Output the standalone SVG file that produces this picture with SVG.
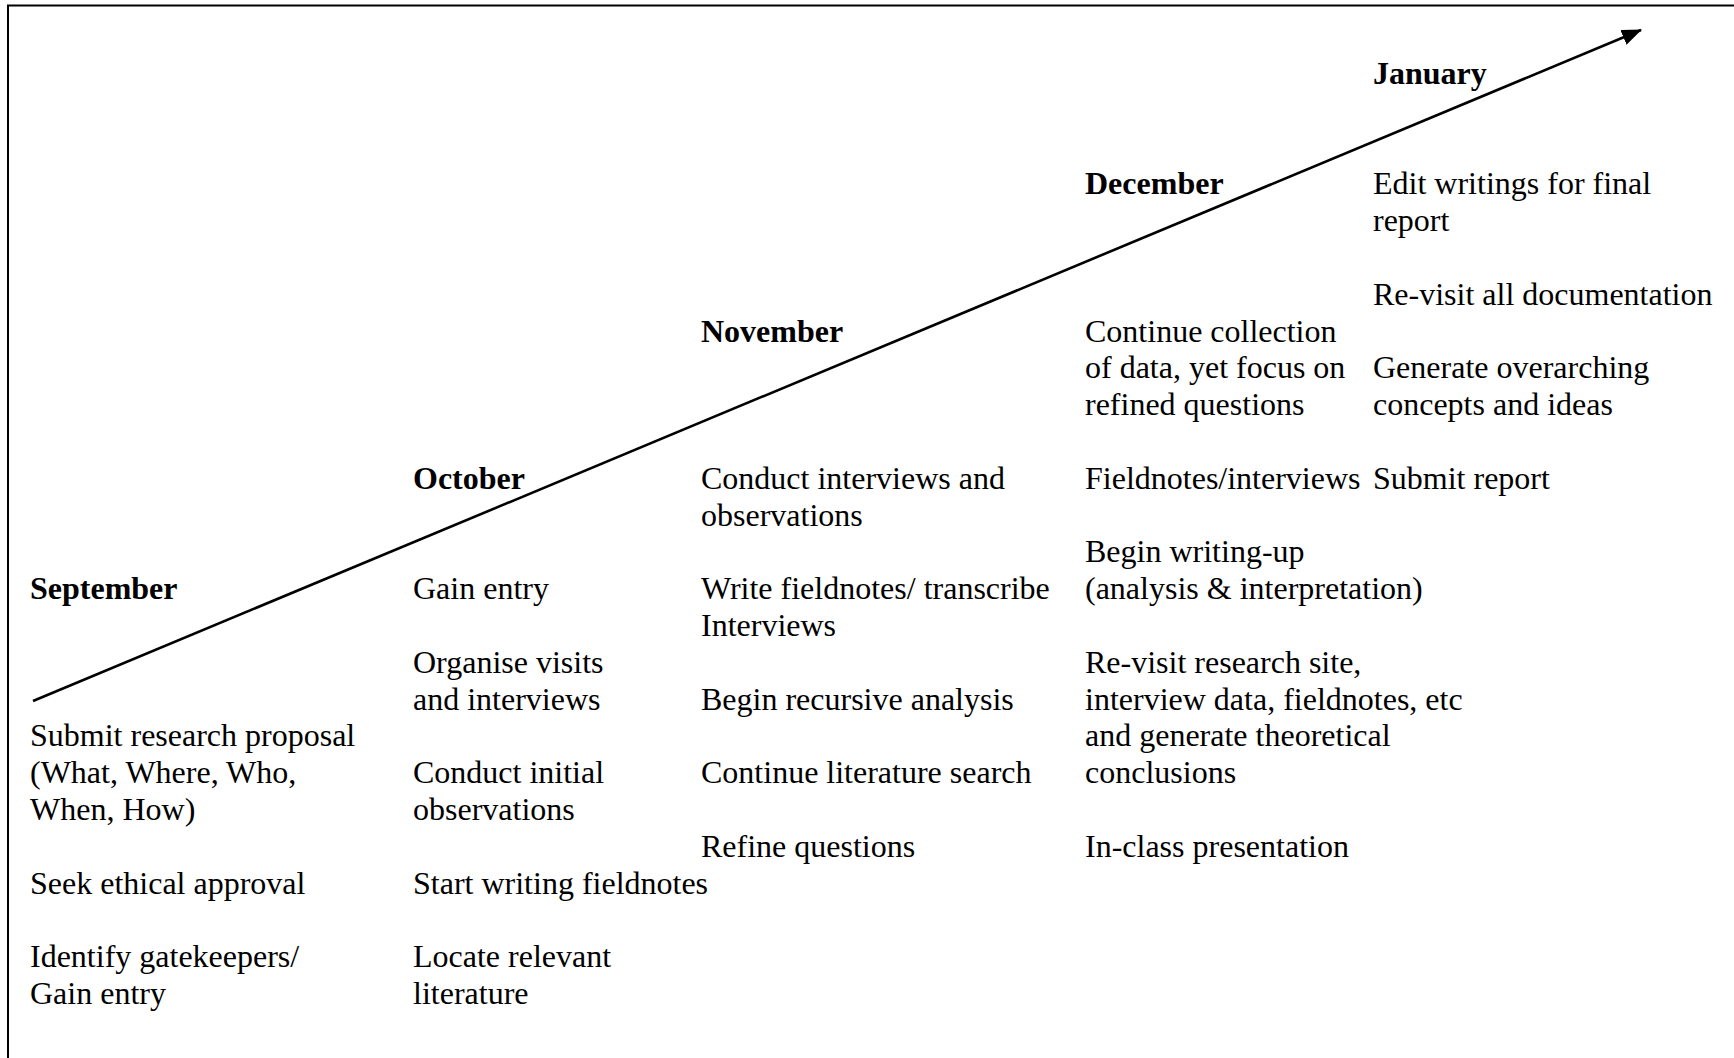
<svg xmlns="http://www.w3.org/2000/svg" width="1734" height="1058" viewBox="0 0 1734 1058">
<style>
text{font-family:"Liberation Serif","Times New Roman",serif;font-size:32px;fill:#000}
.m{font-weight:bold}
</style>
<defs>
<marker id="ah" viewBox="0 0 20 16" refX="19" refY="8" markerWidth="20" markerHeight="16" markerUnits="userSpaceOnUse" orient="auto">
<path d="M0,0 L20,8 L0,16 z" fill="#000"/>
</marker>
</defs>
<rect width="1734" height="1058" fill="#fff"/>
<path d="M8,1058 V5.5 H1734" fill="none" stroke="#000" stroke-width="2"/>
<g id="connectors">
<line x1="33" y1="701" x2="1641" y2="30" stroke="#000" stroke-width="2.6" marker-end="url(#ah)"/>
</g>
<g id="september">
<text class="m" x="30" y="599">September</text>
<text x="30" y="746.4"><tspan x="30">Submit research proposal</tspan><tspan x="30" dy="36.8">(What, Where, Who,</tspan><tspan x="30" dy="36.8">When, How)</tspan><tspan x="30" dy="73.6">Seek ethical approval</tspan><tspan x="30" dy="73.6">Identify gatekeepers/</tspan><tspan x="30" dy="36.8">Gain entry</tspan></text>
</g>
<g id="october">
<text class="m" x="413" y="488.8">October</text>
<text x="413" y="599.2"><tspan x="413">Gain entry</tspan><tspan x="413" dy="73.6">Organise visits</tspan><tspan x="413" dy="36.8">and interviews</tspan><tspan x="413" dy="73.6">Conduct initial</tspan><tspan x="413" dy="36.8">observations</tspan><tspan x="413" dy="73.6">Start writing fieldnotes</tspan><tspan x="413" dy="73.6">Locate relevant</tspan><tspan x="413" dy="36.8">literature</tspan></text>
</g>
<g id="november">
<text class="m" x="701" y="341.6">November</text>
<text x="701" y="488.8"><tspan x="701">Conduct interviews and</tspan><tspan x="701" dy="36.8">observations</tspan><tspan x="701" dy="73.6">Write fieldnotes/ transcribe</tspan><tspan x="701" dy="36.8">Interviews</tspan><tspan x="701" dy="73.6">Begin recursive analysis</tspan><tspan x="701" dy="73.6">Continue literature search</tspan><tspan x="701" dy="73.6">Refine questions</tspan></text>
</g>
<g id="december">
<text class="m" x="1085" y="194.4">December</text>
<text x="1085" y="341.6"><tspan x="1085">Continue collection</tspan><tspan x="1085" dy="36.8">of data, yet focus on</tspan><tspan x="1085" dy="36.8">refined questions</tspan><tspan x="1085" dy="73.6">Fieldnotes/interviews</tspan><tspan x="1085" dy="73.6">Begin writing-up</tspan><tspan x="1085" dy="36.8">(analysis &amp; interpretation)</tspan><tspan x="1085" dy="73.6">Re-visit research site,</tspan><tspan x="1085" dy="36.8">interview data, fieldnotes, etc</tspan><tspan x="1085" dy="36.8">and generate theoretical</tspan><tspan x="1085" dy="36.8">conclusions</tspan><tspan x="1085" dy="73.6">In-class presentation</tspan></text>
</g>
<g id="january">
<text class="m" x="1373" y="84">January</text>
<text x="1373" y="194.4"><tspan x="1373">Edit writings for final</tspan><tspan x="1373" dy="36.8">report</tspan><tspan x="1373" dy="73.6">Re-visit all documentation</tspan><tspan x="1373" dy="73.6">Generate overarching</tspan><tspan x="1373" dy="36.8">concepts and ideas</tspan><tspan x="1373" dy="73.6">Submit report</tspan></text>
</g>
</svg>
